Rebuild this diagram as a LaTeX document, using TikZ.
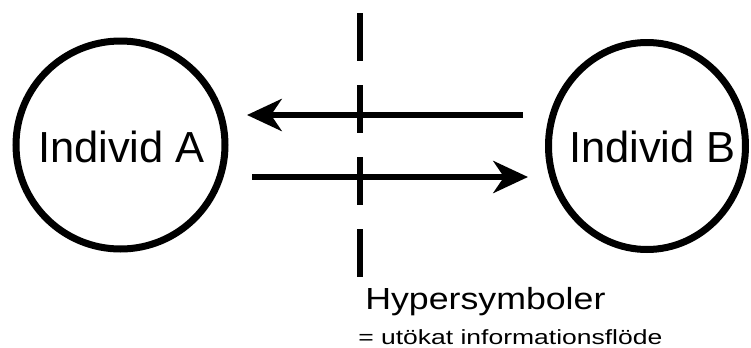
\documentclass[tikz,border=0pt]{standalone}
\usepackage{fontspec}
\setmainfont{Liberation Sans}
\usetikzlibrary{arrows.meta,shapes.geometric}
\begin{document}
\begin{tikzpicture}[x=0.75pt,y=-0.75pt,
  person/.style={draw=black,line width=5.25pt,ellipse,inner sep=0pt},
  persontext/.style={inner sep=0pt,font=\fontsize{32.6pt}{36pt}\selectfont},
  flow/.style={line width=4.5pt,-{Stealth[length=26pt,width=24pt,inset=8pt]}},
  divider/.style={line width=4.5pt,dash pattern=on 36pt off 18pt},
  titletext/.style={anchor=base west,inner sep=0pt,font=\fontsize{22.9pt}{26pt}\selectfont},
  subtext/.style={anchor=base west,inner sep=0pt,font=\fontsize{15.4pt}{18pt}\selectfont}]
\path[use as bounding box,fill=white] (0,0) rectangle (751,347);
\node[person,minimum width=209*0.75pt,minimum height=208*0.75pt] (A) at (120.5,145) {};
\node[person,minimum width=197*0.75pt,minimum height=207*0.75pt] (B) at (647,146) {};
\node[persontext] (At) at (121.5,146.5) {Individ A};
\node[persontext] (Bt) at (652.5,146.5) {Individ B};
\coordinate (d1) at (360,13);
\coordinate (d2) at (360,277);
\draw[divider] (d1) -- (d2);
\coordinate (t1) at (523,115);
\coordinate (t2) at (247,115);
\coordinate (b1) at (252,177);
\coordinate (b2) at (528,177);
\draw[flow] (t1) -- (t2);
\draw[flow] (b1) -- (b2);
\node[titletext] (h) at (365,309) {\scalebox{1.17}[1]{Hypersymboler}};
\node[subtext] (s) at (358,344) {\scalebox{1.29}[1]{= utökat informationsflöde}};
\end{tikzpicture}
\end{document}
